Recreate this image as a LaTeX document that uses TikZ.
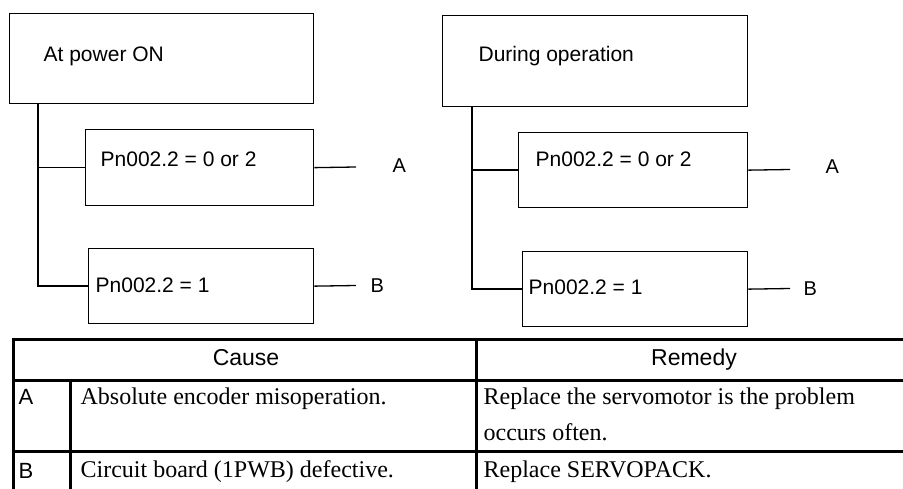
\documentclass[tikz,border=0pt]{standalone}
\usepackage{fontspec}
\setmainfont{Liberation Serif}
\setsansfont{Liberation Sans}

\begin{document}
\begin{tikzpicture}[x=1pt, y=-1pt, line width=1.3pt,
  statebox/.style={draw, anchor=north west, inner sep=0pt},
  boxtxt/.style={anchor=base west, inner sep=0pt, font=\sffamily\fontsize{21}{25}\selectfont},
  lettxt/.style={anchor=base west, inner sep=0pt, font=\sffamily\fontsize{20}{24}\selectfont},
  headtxt/.style={anchor=base, inner sep=0pt, font=\sffamily\fontsize{23}{27}\selectfont},
  celltxt/.style={anchor=base west, inner sep=0pt, font=\rmfamily\fontsize{24}{37}\selectfont}]
  \useasboundingbox (0,0) rectangle (903,489);
  \clip (0,0) rectangle (903,489);
  % At power ON
  \node[statebox, minimum width=304pt, minimum height=90pt] (pwr) at (9,13) {};
  \node[boxtxt] (pwrtxt) at (43,62) {At power ON};
  \node[statebox, minimum width=228pt, minimum height=76pt] (pwrA) at (85,129) {};
  \node[boxtxt] (pwrAtxt) at (100,167) {Pn002.2 = 0 or 2};
  \node[statebox, minimum width=225pt, minimum height=75pt] (pwrB) at (88,248) {};
  \node[boxtxt] (pwrBtxt) at (95,293) {Pn002.2 = 1};
  \draw ([xshift=29pt]pwr.south west) |- (pwrA.west);
  \draw ([xshift=29pt]pwr.south west) |- (pwrB.west);
  \coordinate (pwrAend) at (356,167);
  \coordinate (pwrBend) at (356,285.5);
  \draw (pwrA.east) -- (pwrAend);
  \draw (pwrB.east) -- (pwrBend);
  \node[lettxt] (pwrAlet) at (392,173) {A};
  \node[lettxt] (pwrBlet) at (370,293) {B};
  % During operation
  \node[statebox, minimum width=305pt, minimum height=91pt] (run) at (442,15) {};
  \node[boxtxt] (runtxt) at (478,62) {During operation};
  \node[statebox, minimum width=229pt, minimum height=75pt] (runA) at (518,132) {};
  \node[boxtxt] (runAtxt) at (535,167) {Pn002.2 = 0 or 2};
  \node[statebox, minimum width=225pt, minimum height=75pt] (runB) at (522,251) {};
  \node[boxtxt] (runBtxt) at (528,295) {Pn002.2 = 1};
  \draw ([xshift=30pt]run.south west) |- (runA.west);
  \draw ([xshift=30pt]run.south west) |- (runB.west);
  \coordinate (runAend) at (790,169.5);
  \coordinate (runBend) at (790,288.5);
  \draw (runA.east) -- (runAend);
  \draw (runB.east) -- (runBend);
  \node[lettxt] (runAlet) at (825,174) {A};
  \node[lettxt] (runBlet) at (803,296) {B};
  % Table
  \draw[line width=3pt] (13,339.5) -- (929,339.5) (13,380.5) -- (929,380.5) (13,451) -- (929,451);
  \draw[line width=3pt] (13,338) -- (13,489) (70,380.5) -- (70,489) (476,338) -- (476,489);
  \node[headtxt] (cause) at (246,366) {Cause};
  \node[headtxt] (remedy) at (694,366) {Remedy};
  \node[lettxt, font=\sffamily\fontsize{22}{26}\selectfont] (rowA) at (18,404) {A};
  \node[lettxt, font=\sffamily\fontsize{22}{26}\selectfont] (rowB) at (18,478) {B};
  \node[celltxt] (causeA) at (80,404) {Absolute encoder misoperation.};
  \node[celltxt] (remA) at (483,404) {Replace the servomotor is the problem};
  \node[celltxt] (remA2) at (483,440) {occurs often.};
  \node[celltxt] (causeB) at (80,477) {Circuit board (1PWB) defective.};
  \node[celltxt] (remB) at (483,477) {Replace SERVOPACK.};
\end{tikzpicture}
\end{document}
